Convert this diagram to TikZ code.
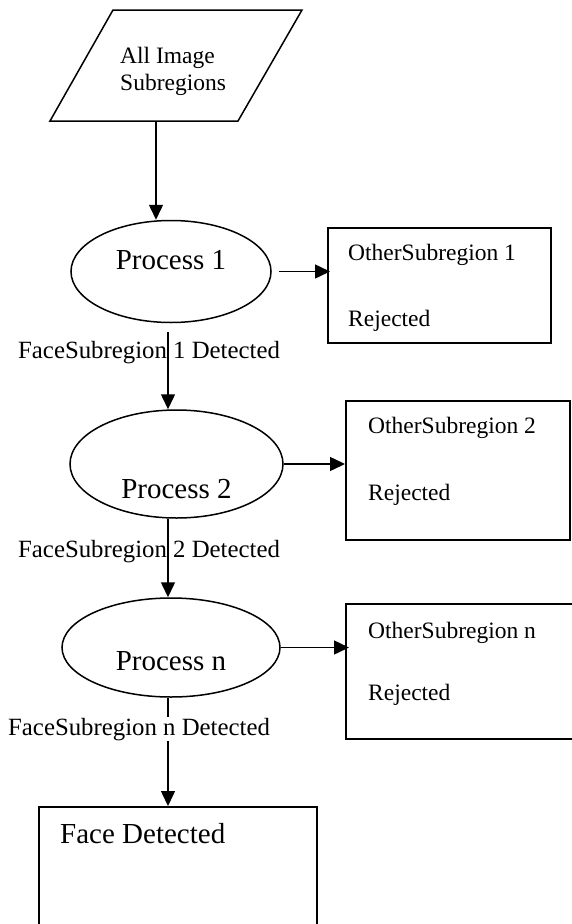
\documentclass[tikz,border=0pt]{standalone}
\usepackage{fontspec}
\setmainfont{Liberation Serif}
\usetikzlibrary{shapes.geometric,arrows.meta}
\newcommand{\txtfont}{\fontsize{23.5}{27}\selectfont}
\newcommand{\detfont}{\fontsize{24.8}{28}\selectfont}
\newcommand{\procfont}{\fontsize{29}{34}\selectfont}
\tikzset{
  proc/.style={draw, ellipse, line width=1.5pt, inner sep=0pt, font=\procfont},
  rejbox/.style={draw, rectangle, line width=1.8pt, inner sep=0pt, anchor=north west},
  lbl/.style={anchor=base west, inner sep=0pt, font=\txtfont},
  arr/.style={line width=1.5pt, -{Triangle[length=15pt,width=14pt]}}
}
\begin{document}
\begin{tikzpicture}[x=1pt, y=-1pt]
        \useasboundingbox (0,0) rectangle (572,924);
        \draw[line width=1.5pt] (113,10) -- (302,10) -- (238,121) -- (50,121) -- cycle;
        \coordinate (srcbot) at (156,121);
        \coordinate (axis) at (168,0);
        \node[lbl, align=left] (src) at (120,90) {All Image\\Subregions};

        \node[proc, minimum width=200pt, minimum height=102pt, text height=20pt, text depth=25pt] (p1) at (171,271.5) {Process 1};
        \node[proc, minimum width=213pt, minimum height=108pt, text height=68pt, text depth=0pt] (p2) at (176.5,464) {Process 2};
        \node[proc, minimum width=218pt, minimum height=99pt, text height=45pt, text depth=0pt] (pn) at (171,647.5) {Process n};

        \node[rejbox, minimum width=223pt, minimum height=115pt] (r1) at (327,227) {};
        \node[lbl] (r1a) at ([shift={(21,33)}]r1.north west) {OtherSubregion 1};
        \node[lbl] (r1b) at ([shift={(21,99)}]r1.north west) {Rejected};
        \node[rejbox, minimum width=224pt, minimum height=139pt] (r2) at (345,400) {};
        \node[lbl] (r2a) at ([shift={(23,33)}]r2.north west) {OtherSubregion 2};
        \node[lbl] (r2b) at ([shift={(23,100)}]r2.north west) {Rejected};
        \node[rejbox, minimum width=240pt, minimum height=135pt] (rn) at (345,603) {};
        \node[lbl] (rna) at ([shift={(23,35)}]rn.north west) {OtherSubregion n};
        \node[lbl] (rnb) at ([shift={(23,97)}]rn.north west) {Rejected};

        \node[rejbox, minimum width=278pt, minimum height=160pt] (face) at (38,806) {};
        \node[lbl, font=\procfont] (facetxt) at ([shift={(22,37)}]face.north west) {Face Detected};

        \node[lbl, font=\detfont] (fd1) at (18,358) {FaceSubregion 1 Detected};
        \node[lbl, font=\detfont] (fd2) at (18,557) {FaceSubregion 2 Detected};

        \draw[arr] (srcbot) -- (srcbot |- p1.north);
        \draw[arr] ([xshift=7pt]p1.east) -- ([xshift=3pt]p1.east -| r1.west);
        \draw[arr] ([yshift=-9pt]axis |- p1.south) -- (axis |- p2.north);
        \draw[arr] (p2.east) -- (p2.east -| r2.west);
        \draw[arr] (axis |- p2.south) -- (axis |- pn.north);
        \draw[arr] (pn.east) -- ([xshift=4pt]pn.east -| rn.west);
        \draw[arr] (axis |- pn.south) -- (axis |- face.north);
        \node[lbl, font=\detfont, fill=white, inner ysep=1pt] (fdn) at (8,735) {FaceSubregion n Detected};
\end{tikzpicture}
\end{document}
